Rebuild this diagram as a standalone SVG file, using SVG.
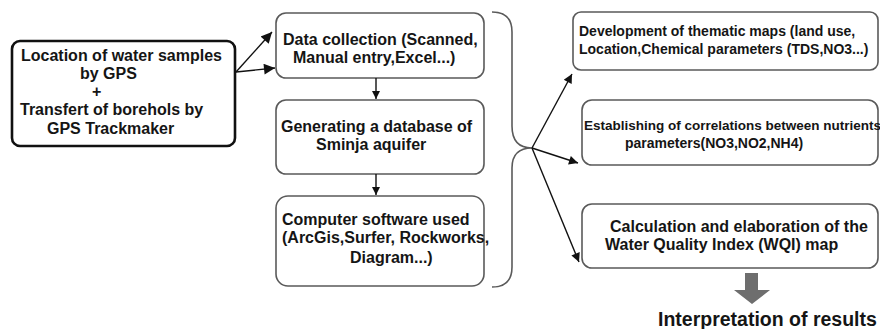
<svg xmlns="http://www.w3.org/2000/svg" width="880" height="329" viewBox="0 0 880 329">
<style>
text{font-family:"Liberation Sans",Arial,sans-serif;font-weight:bold;fill:#151515}
.t16{font-size:16px}
.t14{font-size:14px}
.t135{font-size:13.5px}
.box{fill:#fff;stroke:#5a5a5a;stroke-width:1.6}
.main{fill:#fff;stroke:#111;stroke-width:2.6}
.ln{stroke:#111;stroke-width:1.4;fill:none}
.brace{stroke:#5a5a5a;stroke-width:1.6;fill:none}
</style>
<defs>
<marker id="big" viewBox="0 0 10 10" refX="10" refY="5" markerWidth="15" markerHeight="11" markerUnits="userSpaceOnUse" orient="auto"><path d="M0,0 L10,5 L0,10 z" fill="#111"/></marker>
<marker id="mid" viewBox="0 0 10 10" refX="10" refY="5" markerWidth="12" markerHeight="9" markerUnits="userSpaceOnUse" orient="auto"><path d="M0,0 L10,5 L0,10 z" fill="#111"/></marker>
<marker id="sm" viewBox="0 0 10 10" refX="10" refY="5" markerWidth="9" markerHeight="8" markerUnits="userSpaceOnUse" orient="auto"><path d="M0,0 L10,5 L0,10 z" fill="#111"/></marker>
</defs>
<rect width="880" height="329" fill="#fff"/>

<g id="gps">
<rect class="main" x="12" y="41" width="223" height="105" rx="8"/>
<text class="t16" x="21" y="61">Location of water samples</text>
<text class="t16" x="80" y="79">by GPS</text>
<text class="t16" x="92" y="97">+</text>
<text class="t16" x="20" y="115">Transfert of borehols by</text>
<text class="t16" x="47" y="134">GPS Trackmaker</text>
</g>

<g id="data">
<rect class="box" x="276" y="13" width="208" height="65" rx="10"/>
<text class="t16" x="283" y="45">Data collection (Scanned,</text>
<text class="t16" x="293" y="63">Manual entry,Excel...)</text>
</g>

<g id="database">
<rect class="box" x="276" y="100" width="208" height="74" rx="10"/>
<text class="t16" x="281" y="132">Generating a database of</text>
<text class="t16" x="316" y="150">Sminja aquifer</text>
</g>

<g id="software">
<rect class="box" x="276" y="196" width="208" height="90" rx="12"/>
<text class="t16" x="282" y="225">Computer software used</text>
<text class="t16" x="282" y="243">(ArcGis,Surfer, Rockworks,</text>
<text class="t16" x="350" y="263">Diagram...)</text>
</g>

<g id="thematic">
<rect class="box" x="573" y="12" width="305" height="58" rx="8"/>
<text class="t14" x="579" y="36">Development of thematic maps (land use,</text>
<text class="t14" x="579" y="54">Location,Chemical parameters (TDS,NO3...)</text>
</g>

<g id="correlations">
<rect class="box" x="582" y="100" width="296" height="65" rx="10"/>
<text class="t135" x="584" y="130">Establishing of correlations between nutrients</text>
<text class="t14" x="625" y="148">parameters(NO3,NO2,NH4)</text>
</g>

<g id="wqi">
<rect class="box" x="582" y="204" width="296" height="64" rx="10"/>
<text class="t16" x="610" y="232">Calculation and elaboration of the</text>
<text class="t16" x="605" y="250">Water Quality Index (WQI) map</text>
</g>

<g id="interpretation">
<polygon points="745,273 758,273 758,290 770,290 752,304 734,290 745,290" fill="#6e6e6e"/>
<text x="658" y="326" style="font-size:19.5px">Interpretation of results</text>
</g>

<g id="connectors">
<line class="ln" x1="236" y1="72" x2="272" y2="32" marker-end="url(#big)"/>
<line class="ln" x1="236" y1="72" x2="275" y2="68" marker-end="url(#big)"/>
<line class="ln" x1="376" y1="78" x2="376" y2="99" marker-end="url(#sm)"/>
<line class="ln" x1="376" y1="174" x2="376" y2="195" marker-end="url(#sm)"/>
<path class="brace" d="M492,12 Q512,12 512,32 L512,126 Q512,148 532,148 Q512,148 512,168 L512,267 Q512,287 492,287"/>
<line class="ln" x1="532" y1="148" x2="572" y2="74" marker-end="url(#mid)"/>
<line class="ln" x1="532" y1="148" x2="578" y2="163" marker-end="url(#mid)"/>
<line class="ln" x1="532" y1="148" x2="579" y2="262" marker-end="url(#mid)"/>
</g>
</svg>
